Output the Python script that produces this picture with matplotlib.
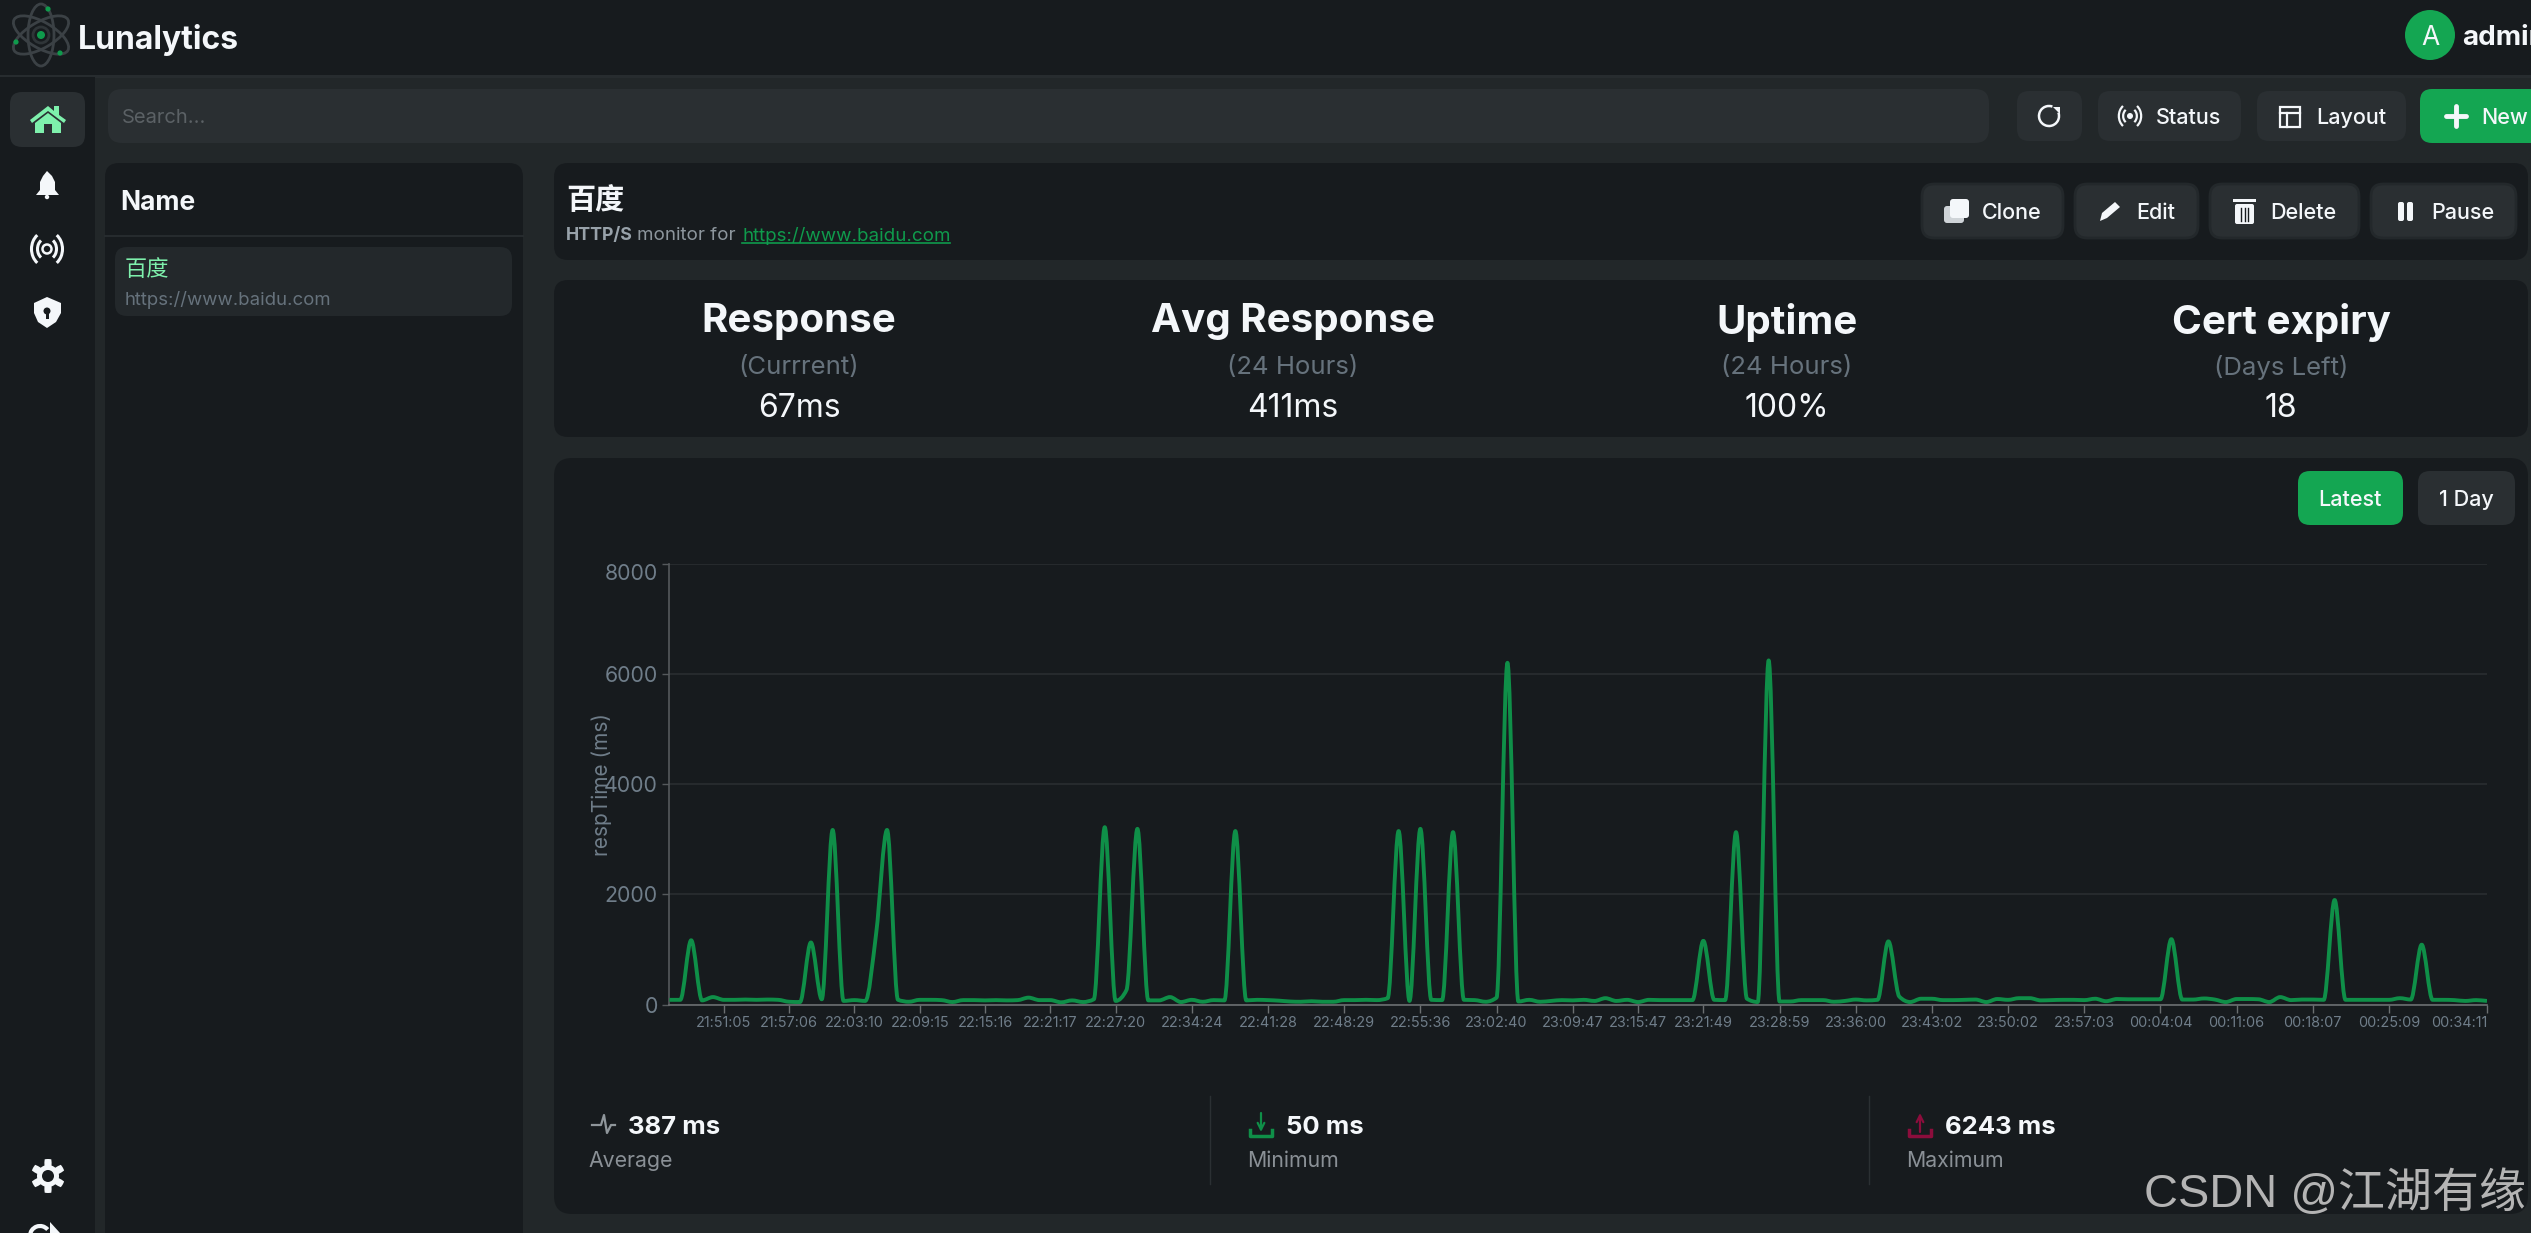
import numpy as np
import matplotlib
matplotlib.use("Agg")
import matplotlib.pyplot as plt
from matplotlib.patches import FancyBboxPatch, Ellipse, Circle, Arc, Polygon, Rectangle, PathPatch
from matplotlib.path import Path

W, H = 2531, 1233

# response time per sample (ms)
resp_times = [
    90, 90, 1170, 80, 140, 90, 90, 95, 90, 95, 90, 55, 50, 1130, 100, 3170, 70, 85, 70, 1300,
    3170, 90, 55, 90, 90, 85, 50, 85, 85, 80, 85, 80, 85, 130, 85, 85, 45, 80, 50, 100,
    3220, 70, 270, 3190, 80, 80, 140, 50, 90, 55, 85, 80, 3150, 80, 90, 85, 75, 60, 55, 65,
    55, 55, 85, 85, 90, 85, 120, 3150, 70, 3190, 90, 85, 3130, 90, 85, 55, 130, 6200, 60, 90,
    55, 70, 85, 80, 90, 70, 120, 70, 90, 50, 90, 85, 85, 85, 85, 1160, 90, 85, 3130, 110,
    50, 6243, 60, 60, 85, 85, 85, 55, 70, 95, 80, 90, 1150, 150, 50, 110, 110, 85, 85, 90,
    95, 50, 105, 90, 120, 120, 80, 85, 90, 90, 85, 110, 65, 105, 100, 100, 100, 100, 1190, 95,
    95, 115, 95, 50, 105, 105, 100, 50, 140, 85, 95, 95, 90, 1900, 90, 90, 90, 90, 90, 120,
    95, 1090, 90, 90, 85, 70, 85, 70,
]
tick_idx = [5, 11, 17, 23, 29, 35, 41, 48, 55, 62, 69, 76, 83, 89, 95, 102, 109, 116, 123, 130,
            137, 144, 151, 158, 167]
tick_labels = ["21:51:05", "21:57:06", "22:03:10", "22:09:15", "22:15:16", "22:21:17", "22:27:20",
               "22:34:24", "22:41:28", "22:48:29", "22:55:36", "23:02:40", "23:09:47", "23:15:47",
               "23:21:49", "23:28:59", "23:36:00", "23:43:02", "23:50:02", "23:57:03", "00:04:04",
               "00:11:06", "00:18:07", "00:25:09", "00:34:11"]
y_ticks = [0, 2000, 4000, 6000, 8000]

stat_titles = ["Response", "Avg Response", "Uptime", "Cert expiry"]
stat_subs = ["(Currrent)", "(24 Hours)", "(24 Hours)", "(Days Left)"]
stat_values = ["67ms", "411ms", "100%", "18"]
stat_x = [799, 1293, 1787, 2281]

BG = "#222729"
DARK = "#171b1e"
BTN = "#2a2f32"
GREEN = "#14a652"
LINE = "#0f8f48"
MINT = "#7ef0ac"
WHITE = "#f4f7fa"
MUTED = "#66727c"
SANS = ["Inter", "Noto Sans CJK SC", "DejaVu Sans"]

plt.rcParams["font.family"] = SANS

fig = plt.figure(figsize=(W / 100, H / 100), dpi=100, facecolor=BG)
bg = fig.add_axes([0, 0, 1, 1])
bg.set_xlim(0, W)
bg.set_ylim(H, 0)
bg.axis("off")


def box(x0, y0, x1, y1, fc, r=14, ec="none", lw=0):
    bg.add_patch(FancyBboxPatch((x0, y0), x1 - x0, y1 - y0, boxstyle=f"round,pad=0,rounding_size={r}",
                                fc=fc, ec=ec, lw=lw))


def txt(x, y, s, size, color=WHITE, weight="normal", ha="left", **kw):
    return bg.text(x, y, s, fontsize=size, color=color, weight=weight, ha=ha, va="center_baseline", **kw)


def radio(cx, cy, k=1.0, color=WHITE):
    if k < 1:
        bg.add_patch(Circle((cx, cy), 3.0, fc=color, ec="none"))
    else:
        bg.add_patch(Circle((cx, cy), 4.5, fc="none", ec=color, lw=1.8))
    for d, ang in ((9.5, 180), (9.5, 0), (15.5, 180), (15.5, 0)):
        bg.add_patch(Arc((cx, cy), 2 * d * k, 2.3 * d * k, theta1=ang - 55, theta2=ang + 55,
                         ec=color, lw=2.2 if k >= 1 else 1.6))


def arrow(x, y_from, y_to, color):
    bg.annotate("", xy=(x, y_to), xytext=(x, y_from),
                arrowprops=dict(arrowstyle="->", color=color, lw=1.6, shrinkA=0, shrinkB=0, mutation_scale=12))
    bg.plot([x - 11, x - 11, x + 11, x + 11], [1130, 1136, 1136, 1130], color=color, lw=2.5)


# page chrome
bg.add_patch(Rectangle((0, 0), W, 75, fc=DARK, ec="none"))
bg.add_patch(Rectangle((0, 75), W, 2.5, fc="#272c2f", ec="none"))
bg.add_patch(Rectangle((0, 77), 95, H - 77, fc=DARK, ec="none"))

# logo
for ang in (30, 90, 150):
    bg.add_patch(Ellipse((41, 35), 62, 26, angle=ang, fc="none", ec="#3b4145", lw=2))
bg.add_patch(Circle((41, 35), 8, fc="none", ec="#2f3538", lw=2))
bg.add_patch(Circle((41, 35), 4, fc="#0f9a4c", ec="none"))
for ex, ey in ((48, 9), (16, 42), (60, 53)):
    bg.add_patch(Circle((ex, ey), 2.6, fc="#0f9a4c", ec="none"))
txt(78, 36, "Lunalytics", 23, weight="bold")

# user
bg.add_patch(Ellipse((2430, 35), 50, 50, fc=GREEN, ec="none"))
txt(2430, 35, "A", 19, ha="center")
txt(2462, 35, "admin", 20, weight="bold", clip_on=True)

# sidebar icons
box(10, 92, 85, 147, "#2a2f32", r=12)
bg.add_patch(Polygon([(30, 120), (48, 106), (54, 111), (54, 106), (59, 106), (59, 115), (66, 120),
                      (64, 123), (48, 111), (32, 123)], fc=MINT, ec="none"))
bg.add_patch(Polygon([(35, 123), (48, 113), (61, 123), (61, 133), (52, 133), (52, 124), (44, 124),
                      (44, 133), (35, 133)], fc=MINT, ec="none"))
bg.add_patch(Polygon([(47, 171), (52, 176), (55, 182), (55, 190), (59, 195), (36, 195), (40, 190),
                      (40, 182), (43, 176)], fc=WHITE, ec="none"))
bg.add_patch(Circle((47, 197), 2.2, fc=WHITE, ec="none"))
radio(47, 249)
bg.add_patch(Polygon([(47, 297), (61, 303), (61, 313), (56, 322), (47, 328), (38, 322), (34, 313),
                      (34, 303)], fc=WHITE, ec="none"))
bg.add_patch(Circle((47, 311), 3.5, fc=DARK, ec="none"))
bg.add_patch(Rectangle((45.5, 311), 3, 8, fc=DARK, ec="none"))
th = np.linspace(0, 2 * np.pi, 97)
gear_r = 14 + 3 * np.clip(3 * np.cos(6 * th), -1, 1)
bg.add_patch(Polygon(np.c_[48 + gear_r * np.sin(th), 1176 + gear_r * np.cos(th)], fc=WHITE, ec="none"))
bg.add_patch(Circle((48, 1176), 6, fc=DARK, ec="none"))
bg.add_patch(Arc((40, 1236), 20, 20, theta1=180, theta2=320, ec=WHITE, lw=3))
bg.add_patch(Polygon([(50, 1222), (60, 1233), (50, 1233)], fc=WHITE, ec="none"))

# search and top buttons
box(108, 89, 1989, 143, BTN, r=14)
txt(122, 116, "Search...", 14.5, color="#5b6165")
box(2017, 91, 2082, 141, BTN, r=12)
bg.add_patch(Arc((2049, 116), 20, 20, theta1=-20, theta2=290, ec=WHITE, lw=1.8))
bg.add_patch(Polygon([(2053, 107), (2060, 107), (2060, 114)], fc=WHITE, ec="none"))
box(2098, 91, 2241, 141, BTN, r=12)
radio(2130, 116, 0.72)
txt(2156, 116, "Status", 15.5, weight="medium")
box(2257, 91, 2406, 141, BTN, r=12)
bg.add_patch(Rectangle((2280, 107), 20, 20, fc="none", ec=WHITE, lw=1.6))
bg.plot([2280, 2300], [113, 113], color=WHITE, lw=1.6)
bg.plot([2287, 2287], [113, 127], color=WHITE, lw=1.6)
txt(2316, 116, "Layout", 15.5, weight="medium")
box(2420, 89, 2560, 143, GREEN, r=12)
bg.plot([2446, 2466], [116, 116], color=WHITE, lw=3.5, solid_capstyle="round")
bg.plot([2456, 2456], [106, 126], color=WHITE, lw=3.5, solid_capstyle="round")
txt(2481, 116, "New", 15.5, weight="medium")

# monitor list
box(105, 163, 523, 1290, DARK, r=14)
txt(120, 200, "Name", 19, weight="bold")
bg.plot([105, 523], [236, 236], color="#262b2e", lw=1.5)
box(115, 247, 512, 316, "#23282b", r=12)
txt(125, 268, "百度", 16, color=MINT)
txt(125, 298, "https://www.baidu.com", 13.4, color=MUTED)

# monitor header
box(554, 163, 2528, 260, DARK, r=14)
txt(566, 198, "百度", 21, weight="bold")
txt(566, 234, "HTTP/S", 12.8, color="#98a2aa", weight="bold")
txt(637, 234, "monitor for", 13.5, color="#8d969d")
txt(742, 234, "https://www.baidu.com", 13.5, color="#0f9a4c")
bg.plot([742, 950], [243, 243], color="#0f9a4c", lw=1.2)
for x0, x1, tx, label in ((1922, 2063, 1982, "Clone"), (2075, 2198, 2136, "Edit"),
                          (2210, 2359, 2270, "Delete"), (2371, 2516, 2431, "Pause")):
    box(x0, 184, x1, 238, BTN, r=12, ec="#23282b", lw=2)
    txt(tx, 211, label, 15.5, weight="medium")
box(1944, 206, 1964, 223, "#cfd4d8", r=3)
box(1950, 199, 1969, 218, WHITE, r=3)
bg.add_patch(Polygon([(2100, 221), (2102, 213), (2115, 202), (2120, 207), (2107, 218)], fc=WHITE, ec="none"))
box(2235, 204, 2254, 224, WHITE, r=2)
bg.add_patch(Rectangle((2233, 199), 23, 3, fc=WHITE, ec="none"))
for vx in (2241, 2244.5, 2248):
    bg.plot([vx, vx], [208, 221], color=DARK, lw=1)
box(2398, 202, 2404, 221, WHITE, r=2)
box(2407, 202, 2413, 221, WHITE, r=2)

# summary card
box(554, 280, 2528, 437, DARK, r=14)
for sx, title, sub, val in zip(stat_x, stat_titles, stat_subs, stat_values):
    txt(sx, 318, title, 29, weight="bold", ha="center")
    txt(sx, 365, sub, 18.5, color=MUTED, ha="center")
    txt(sx, 405, val, 23, ha="center")

# chart card
box(554, 458, 2528, 1214, DARK, r=18)
box(2298, 471, 2403, 525, GREEN, r=12)
txt(2350, 498, "Latest", 15.5, ha="center", weight="medium")
box(2418, 471, 2515, 525, BTN, r=12)
txt(2466, 498, "1 Day", 15.5, ha="center", weight="medium")

# footer stats
bg.plot([592, 601, 604, 607, 611, 615], [1125, 1125, 1115, 1133, 1125, 1125], color="#8f969b", lw=1.6)
txt(628, 1125, "387 ms", 18.5, weight="bold")
txt(588, 1159, "Average", 15.3, color="#8a9096")
for dx in (1210, 1869):
    bg.plot([dx, dx], [1096, 1184], color="#2b3033", lw=1)
arrow(1261, 1113, 1132, LINE)
txt(1286, 1125, "50 ms", 18.5, weight="bold")
txt(1247, 1159, "Minimum", 15.3, color="#8a9096")
arrow(1920, 1132, 1113, "#8c0d3c")
txt(1945, 1125, "6243 ms", 18.5, weight="bold")
txt(1906, 1159, "Maximum", 15.3, color="#8a9096")

# chart itself
AX_L, AX_R, AX_T, AX_B = 669.4, 2487, 563.5, 1004.8
ax = fig.add_axes([AX_L / W, 1 - AX_B / H, (AX_R - AX_L) / W, (AX_B - AX_T) / H])
ax.patch.set_alpha(0)
ax.set_xlim(0, len(resp_times) - 1)
ax.set_ylim(0, 8000)
for side in ("top", "right"):
    ax.spines[side].set_visible(False)
ax.spines["left"].set_color("#55595c")
ax.spines["bottom"].set_color("#6b6f71")
ax.spines["left"].set_linewidth(1.2)
ax.spines["bottom"].set_linewidth(1.2)
ax.grid(axis="y", color="#282c2f", lw=1.3)
ax.set_axisbelow(True)
ax.set_yticks(y_ticks)
ax.set_xticks(tick_idx)
ax.set_xticklabels(tick_labels)
ax.tick_params(axis="y", length=5.4, width=1, color="#55595c", labelsize=15.3, labelcolor="#6f7d89", pad=3)
ax.tick_params(axis="x", length=5.4, width=1, color="#6b6f71", labelsize=10.4, labelcolor="#6f7d89", pad=3)
ax.get_yticklabels()[-1].set_va("top")
ax.get_xticklabels()[-1].set_ha("right")
ax.set_ylabel("respTime (ms)", fontsize=15, color="#6f7d89", va="center")
ax.yaxis.set_label_coords(-(AX_L - 602) / (AX_R - AX_L), 0.5)


def monotone_path(values):
    """Monotone cubic through the samples, same look as the chart's smoothed line"""
    y = np.asarray(values, dtype=float)
    x = np.arange(len(y), dtype=float)
    s = np.diff(y)
    t = np.zeros_like(y)
    t[1:-1] = (np.sign(s[:-1]) + np.sign(s[1:])) * np.minimum.reduce(
        [np.abs(s[:-1]), np.abs(s[1:]), 0.25 * np.abs(s[:-1] + s[1:])])
    t[0], t[-1] = s[0], s[-1]
    verts, codes = [(x[0], y[0])], [Path.MOVETO]
    for i in range(len(y) - 1):
        verts += [(x[i] + 1 / 3, y[i] + t[i] / 3), (x[i + 1] - 1 / 3, y[i + 1] - t[i + 1] / 3),
                  (x[i + 1], y[i + 1])]
        codes += [Path.CURVE4] * 3
    return Path(verts, codes)


ax.add_patch(PathPatch(monotone_path(resp_times), fc="none", ec=LINE, lw=2.8, joinstyle="round", zorder=3))

# watermark
fig.text(2144 / W, 1 - 1194 / H, "CSDN @江湖有缘", fontsize=33.8, color="#b4b4b4", va="center",
         family=["Liberation Sans", "Noto Sans CJK SC"])

fig.savefig("out.png", dpi=100, facecolor=fig.get_facecolor())
